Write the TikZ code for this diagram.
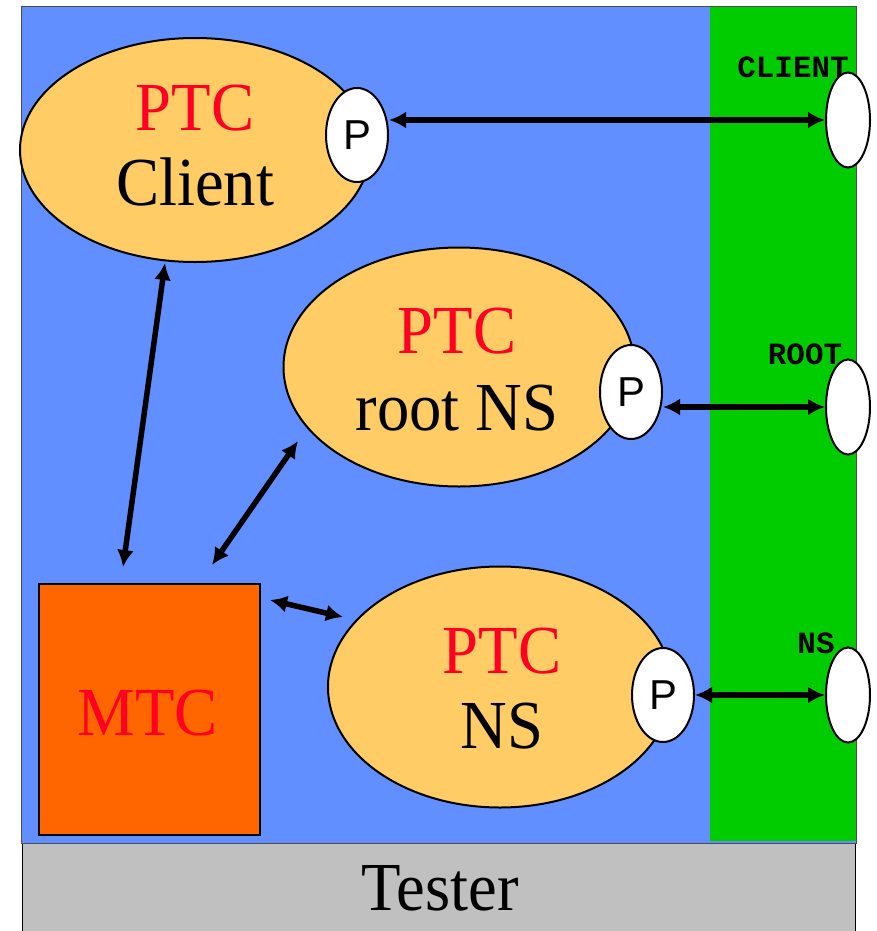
\documentclass[tikz,border=0pt]{standalone}
\usepackage{fontspec}
\setmainfont{Liberation Serif}[FakeStretch=0.94]
\newfontfamily\psans{Liberation Sans}
\newfontfamily\pmono{Liberation Mono}
\usetikzlibrary{shapes.geometric,arrows.meta}
\definecolor{bgblue}{HTML}{628FFF}
\definecolor{tgreen}{HTML}{00CC00}
\definecolor{ptcfill}{HTML}{FFCC66}
\definecolor{mtcfill}{HTML}{FF6600}
\definecolor{ptcred}{HTML}{FF0022}
\definecolor{testgray}{HTML}{C0C0C0}
\tikzset{
  ptc/.style={ellipse, draw=black, line width=2bp, fill=ptcfill, inner sep=0pt},
  port/.style={ellipse, draw=black, line width=2bp, fill=white, inner sep=0pt, minimum width=62bp, minimum height=94bp, font=\psans\fontsize{42}{44}\selectfont},
  tport/.style={ellipse, draw=black, line width=2bp, fill=white, inner sep=0pt, minimum width=44bp, minimum height=95bp},
  big/.style={font=\fontsize{69}{72}\selectfont, inner sep=0pt, anchor=base},
  redtxt/.style={big, text=ptcred},
  plabel/.style={font=\pmono\bfseries\fontsize{31}{33}\selectfont, inner sep=0pt, anchor=base},
  link/.style={line width=5.5bp, {Latex[length=17bp,width=17bp]}-{Latex[length=17bp,width=17bp]}}
}
\begin{document}
\begin{tikzpicture}[x=1bp,y=-1bp]
\useasboundingbox (0,0) rectangle (877,931);
\fill[white] (0,0) rectangle (877,931);
% tester
\node[draw=black, line width=1bp, fill=testgray, minimum width=833bp, minimum height=95bp, inner sep=0pt, anchor=north west] (tester) at (22,843) {};
\node[big] (testertxt) at (440,910) {Tester};
% blue area
\node[draw=black!70, line width=1bp, fill=bgblue, minimum width=835bp, minimum height=837bp, inner sep=0pt, anchor=north west] (sut) at (21,6) {};
\node[fill=tgreen, minimum width=146bp, minimum height=834bp, inner sep=0pt, anchor=north west] (green) at (710,6.5) {};
% MTC
\node[draw=black, line width=2bp, fill=mtcfill, minimum width=221bp, minimum height=251bp, inner sep=0pt, anchor=north west] (mtc) at (38,583) {};
\node[redtxt] (mtctxt) at (148,735) {MTC};
% PTC Client
\node[ptc, minimum width=350bp, minimum height=224bp] (client) at (195,150) {};
\node[redtxt] (c1) at (195,130) {PTC};
\node[big] (c2) at (195,205) {Client};
\node[port] (pc) at (357,135) {P};
% PTC root NS
\node[ptc, minimum width=351bp, minimum height=239bp] (root) at (459,367) {};
\node[redtxt] (r1) at (457,353) {PTC};
\node[big] (r2) at (457,430) {root NS};
\node[port] (pr) at (631,392) {P};
% PTC NS
\node[ptc, minimum width=344bp, minimum height=241bp] (ns) at (500,687) {};
\node[redtxt] (n1) at (502,673) {PTC};
\node[big] (n2) at (502,748) {NS};
\node[port] (pn) at (663,695) {P};
% tester ports
\node[plabel] (lc) at (793,77) {CLIENT};
\node[plabel] (lr) at (805,364) {ROOT};
\node[plabel] (ln) at (816,653) {NS};
\node[tport] (rc) at (848,120) {};
\node[tport] (rr) at (848,407) {};
\node[tport] (rn) at (848,695) {};
% links
\draw[link] (pc.east |- rc.west) -- (rc.west);
\draw[link] (pr.east |- rr.west) -- (rr.west);
\draw[link] (pn.east |- rn.west) -- (rn.west);
\coordinate (m1) at (123,567);
\coordinate (m2) at (212,565);
\coordinate (m3) at (270,600);
\coordinate (e1) at (165,263);
\coordinate (e2) at (298,441);
\coordinate (e3) at (343,617);
\draw[link] (m1) -- (e1);
\draw[link] (m2) -- (e2);
\draw[link] (m3) -- (e3);
\end{tikzpicture}
\end{document}
